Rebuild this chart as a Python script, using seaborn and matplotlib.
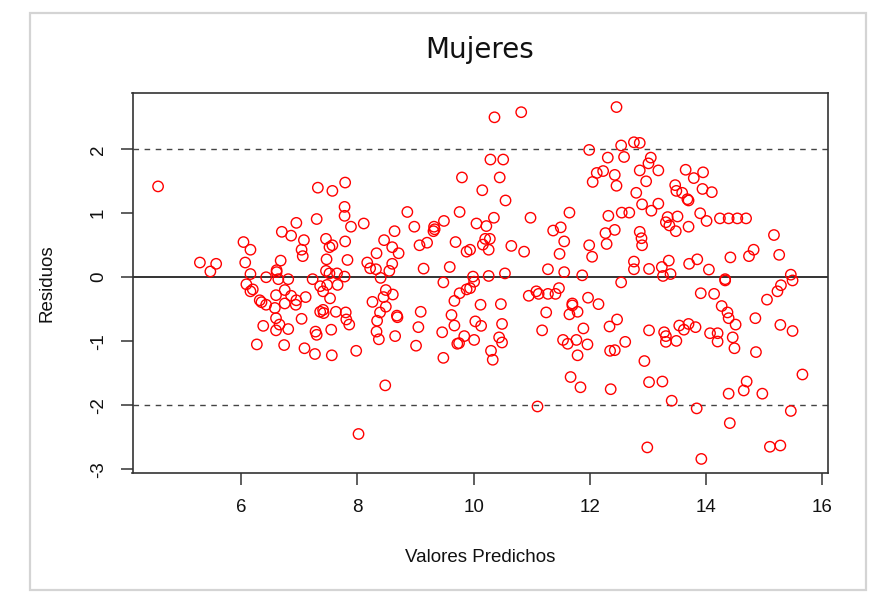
import numpy as np
import pandas as pd
import matplotlib
matplotlib.use("Agg")
import matplotlib.pyplot as plt
import seaborn as sns
from matplotlib.patches import Rectangle

# ---- data (predicted value, residual) ----
pred_a = [4.57, 6.95, 6.70, 6.86, 6.04,
          6.16, 5.29, 5.57, 5.47, 6.07, 6.16, 6.43, 6.61, 6.61, 6.68, 6.64, 6.81,
          6.09, 6.16, 6.20, 6.60, 6.75, 6.86, 6.95, 6.94, 6.32, 6.35, 6.43, 6.75,
          6.58, 6.60, 6.38, 6.60, 6.66, 6.81, 6.27, 6.74]
resid_a = [1.42, 0.85, 0.71, 0.65, 0.55,
           0.43, 0.23, 0.21, 0.09, 0.23, 0.05, 0.00, 0.11, 0.08, 0.26, -0.03, -0.03,
           -0.11, -0.22, -0.19, -0.28, -0.20, -0.29, -0.36, -0.43, -0.36, -0.39, -0.43, -0.41,
           -0.48, -0.64, -0.76, -0.83, -0.74, -0.81, -1.05, -1.06]

pred_b_hi = [7.32, 7.57, 7.79, 7.78, 7.78, 7.89, 8.11, 7.30, 7.08, 7.46, 7.52, 7.57, 7.79,
             8.86, 8.98, 8.64, 8.46, 8.60, 9.32, 9.33, 9.31, 9.49, 9.20, 9.07, 9.80, 9.76, 9.69]
resid_b_hi = [1.40, 1.35, 1.48, 1.10, 0.96, 0.79, 0.84, 0.91, 0.58, 0.60, 0.47, 0.50, 0.56,
              1.02, 0.79, 0.72, 0.58, 0.47, 0.79, 0.75, 0.72, 0.88, 0.54, 0.50, 1.56, 1.02, 0.55]
pred_b_mid = [7.04, 7.06, 7.47, 7.83, 7.46, 7.52, 7.65, 7.78, 7.23, 7.36, 7.48, 7.66, 7.41,
              7.53, 7.11, 8.33, 8.17, 8.60, 8.71, 8.22, 8.32, 8.55, 8.40, 8.49, 8.61, 8.45,
              8.26, 9.14, 9.59, 9.88, 9.48, 9.88, 9.76, 9.67]
resid_b_mid = [0.43, 0.33, 0.28, 0.27, 0.10, 0.06, 0.06, 0.01, -0.03, -0.14, -0.12, -0.12, -0.22,
               -0.33, -0.31, 0.375, 0.23, 0.21, 0.375, 0.14, 0.125, 0.10, -0.01, -0.20, -0.27, -0.31,
               -0.385, 0.135, 0.16, 0.40, -0.08, -0.19, -0.25, -0.37]
pred_b_lo = [7.04, 7.09, 7.27, 7.56, 7.98, 7.28, 7.30, 7.55, 7.36, 7.41, 7.42, 7.63, 7.80,
             7.81, 7.86, 8.49, 8.39, 8.34, 8.33, 8.37, 8.68, 8.69, 8.65, 8.48, 8.02, 9.09,
             9.05, 9.01, 9.46, 9.48, 9.62, 9.67, 9.84, 9.72, 9.75]
resid_b_lo = [-0.65, -1.11, -1.20, -1.22, -1.15, -0.85, -0.90, -0.82, -0.54, -0.51, -0.56, -0.54, -0.55,
              -0.66, -0.74, -0.46, -0.55, -0.68, -0.85, -0.97, -0.60, -0.625, -0.92, -1.69, -2.45, -0.54,
              -0.78, -1.07, -0.86, -1.26, -0.59, -0.755, -0.92, -1.04, -1.03]

pred_c_hi = [10.36, 10.82, 12.46, 10.29, 10.51, 10.45, 10.15, 10.55, 10.05, 10.22, 10.35, 10.98,
             10.20, 10.28, 10.16, 10.65, 11.65, 11.37, 11.50, 11.56, 11.99, 11.99, 12.31, 12.54,
             12.59, 12.76, 12.86, 12.12, 12.23, 12.05, 12.43, 12.46, 12.80, 12.32, 12.55, 12.68,
             12.27, 12.43, 12.29, 12.86, 12.89, 12.90, 12.86, 12.90]
resid_c_hi = [2.50, 2.58, 2.66, 1.84, 1.84, 1.56, 1.36, 1.20, 0.84, 0.80, 0.93, 0.93,
              0.60, 0.60, 0.51, 0.49, 1.01, 0.73, 0.78, 0.56, 0.50, 1.99, 1.87, 2.06,
              1.88, 2.11, 2.10, 1.63, 1.66, 1.49, 1.60, 1.43, 1.32, 0.96, 1.01, 1.01,
              0.69, 0.74, 0.52, 0.71, 0.61, 0.50, 1.67, 1.14]
pred_c_mid = [9.99, 10.01, 9.94, 10.26, 10.54, 9.94, 10.26, 10.87, 11.48, 12.04, 11.28, 11.56,
              11.87, 12.54, 12.76, 12.76, 10.95, 11.08, 11.12, 11.28, 11.41, 11.47, 10.12, 10.47,
              11.70, 11.70, 11.97, 12.15]
resid_c_mid = [0.01, -0.07, -0.17, 0.02, 0.06, 0.43, 0.43, 0.40, 0.365, 0.32, 0.125, 0.08,
               0.03, -0.08, 0.245, 0.125, -0.29, -0.22, -0.26, -0.26, -0.26, -0.17, -0.43, -0.42,
               -0.41, -0.44, -0.32, -0.42]
pred_c_lo = [10.03, 10.13, 10.49, 10.01, 10.44, 10.49, 10.30, 10.33, 11.18, 11.25, 11.65, 11.79,
             11.89, 11.54, 11.62, 11.77, 11.96, 11.79, 12.34, 12.47, 12.61, 12.35, 12.43, 11.67,
             11.84, 12.36, 11.10]
resid_c_lo = [-0.69, -0.76, -0.73, -0.98, -0.94, -1.02, -1.15, -1.29, -0.83, -0.55, -0.58, -0.54,
              -0.80, -0.98, -1.04, -0.98, -1.05, -1.22, -0.77, -0.66, -1.01, -1.15, -1.14, -1.56,
              -1.72, -1.75, -2.02]

pred_d_hi = [13.05, 13.01, 12.97, 13.18, 13.65, 13.79, 13.95, 13.47, 13.49, 13.59, 13.68, 13.70,
             13.94, 14.10, 13.06, 13.18, 13.90, 14.01, 14.24, 14.39, 14.54, 14.69, 13.51, 13.34,
             13.31, 13.37, 13.48, 13.70, 15.17]
resid_d_hi = [1.87, 1.78, 1.50, 1.67, 1.68, 1.55, 1.64, 1.44, 1.35, 1.32, 1.22, 1.20,
              1.38, 1.33, 1.04, 1.15, 1.00, 0.88, 0.92, 0.92, 0.92, 0.92, 0.95, 0.94,
              0.86, 0.81, 0.72, 0.79, 0.66]
pred_d_mid = [13.02, 13.24, 13.26, 13.36, 13.39, 13.71, 13.85, 14.05, 14.42, 14.74, 14.82, 15.26,
              14.33, 14.33, 15.46, 15.49, 15.29, 15.23, 15.05, 13.91, 14.14]
resid_d_mid = [0.13, 0.16, 0.02, 0.26, 0.05, 0.21, 0.28, 0.12, 0.31, 0.33, 0.43, 0.35,
               -0.03, -0.05, 0.04, -0.05, -0.125, -0.22, -0.35, -0.25, -0.26]
pred_d_lo = [12.94, 13.02, 12.99, 13.02, 13.25, 13.41, 13.28, 13.31, 13.31, 13.49, 13.54, 13.62,
             13.70, 13.82, 14.07, 14.20, 14.20, 14.46, 14.49, 14.51, 14.27, 14.37, 14.39, 14.85,
             14.86, 15.28, 15.49, 15.66, 14.70, 14.65, 14.39, 14.97, 13.84, 14.41, 15.46, 13.92,
             15.10, 15.28]
resid_d_lo = [-1.31, -0.83, -2.66, -1.64, -1.63, -1.93, -0.86, -0.92, -1.01, -0.995, -0.755, -0.82,
              -0.73, -0.78, -0.875, -0.875, -1.005, -0.94, -1.11, -0.74, -0.45, -0.55, -0.64, -0.64,
              -1.17, -0.745, -0.84, -1.52, -1.63, -1.77, -1.82, -1.82, -2.05, -2.28, -2.09, -2.84,
              -2.65, -2.63]

x_ticks = [6, 8, 10, 12, 14, 16]
y_ticks = [-3, -2, -1, 0, 1, 2]
title = "Mujeres"
x_label = "Valores Predichos"
y_label = "Residuos"

preds = pred_a + pred_b_hi + pred_b_mid + pred_b_lo + pred_c_hi + pred_c_mid + pred_c_lo + pred_d_hi + pred_d_mid + pred_d_lo
resids = resid_a + resid_b_hi + resid_b_mid + resid_b_lo + resid_c_hi + resid_c_mid + resid_c_lo + resid_d_hi + resid_d_mid + resid_d_lo
df = pd.DataFrame({"pred": preds, "resid": resids})

sns.set_theme(style="white")
plt.rcParams['font.family'] = ['Liberation Sans', 'DejaVu Sans']

W, H = 875, 597
fig = plt.figure(figsize=(W / 100, H / 100), dpi=100)
fig.patch.set_facecolor("white")

# light frame around the picture (screenshot border)
fig.add_artist(Rectangle((30 / W, 1 - 590 / H), (866 - 30) / W, (590 - 13) / H,
                         transform=fig.transFigure, fill=False, edgecolor="#d4d4d4", lw=1.6))

L, R, T, B = 132.5, 828, 93, 473
ax = fig.add_axes([L / W, 1 - B / H, (R - L) / W, (B - T) / H])

ax.axhline(0, color="#111111", lw=1.2, zorder=1)
ax.axhline(2, color="#444444", lw=1.0, ls=(0, (4, 4)), zorder=1)
ax.axhline(-2, color="#444444", lw=1.0, ls=(0, (4, 4)), zorder=1)

sns.scatterplot(data=df, x="pred", y="resid", ax=ax, s=56, marker="o",
                facecolor="none", edgecolor="#ff0000", linewidth=1.0, zorder=3)

ax.set_xlim(4.13, 16.10)
ax.set_ylim(-3.06, 2.88)
ax.set_xticks(x_ticks)
ax.set_yticks(y_ticks)
ax.set_xticklabels([str(v) for v in x_ticks])
ax.set_yticklabels([str(v) for v in y_ticks])
ax.set_xlabel("")
ax.set_ylabel("")
for s in ax.spines.values():
    s.set_visible(True)
    s.set_color("#333333")
    s.set_linewidth(1.2)
ax.tick_params(direction="out", length=8.5, width=1.1, color="#333333",
               labelsize=13.5, labelcolor="#111111", pad=10, left=True, bottom=True)
ax.tick_params(axis="y", labelrotation=90)
plt.setp(ax.get_yticklabels(), va="center")

fig.text(480 / W, 1 - 50 / H, title, ha="center", va="center",
         fontsize=20, family=["DejaVu Sans"], color="#111111")
fig.text(480 / W, 1 - 557 / H, x_label, ha="center", va="center", fontsize=13.5, color="#111111")
fig.text(47 / W, 1 - 283 / H, y_label, ha="center", va="center", rotation=90, fontsize=13.5, color="#111111")

fig.savefig("out.png", dpi=100, facecolor="white")
